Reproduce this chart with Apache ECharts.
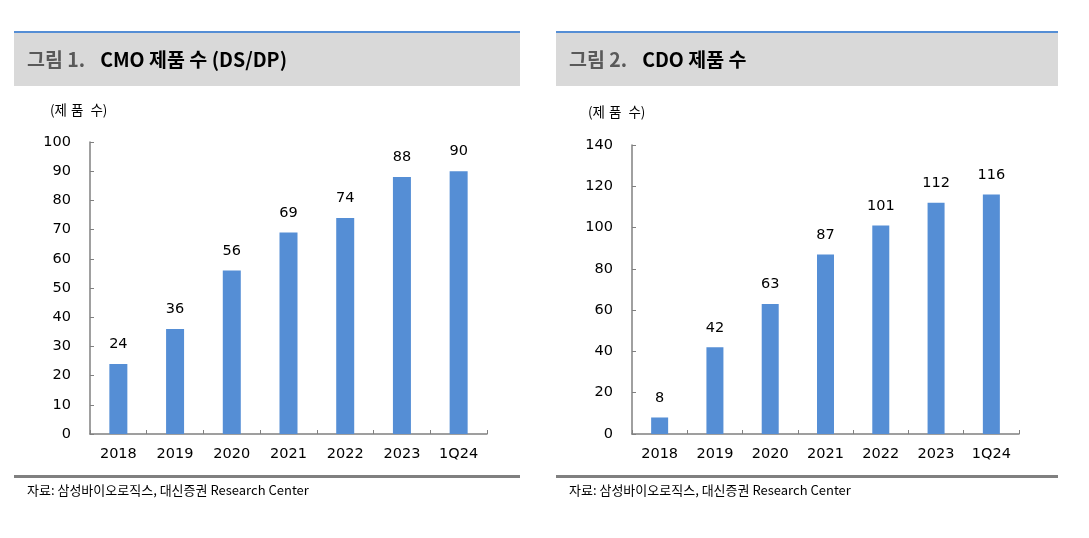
<!DOCTYPE html>
<html><head><meta charset="utf-8">
<script src="https://cdn.jsdelivr.net/npm/echarts@6/dist/echarts.min.js"></script>
<style>html,body{margin:0;padding:0;background:#fff}#c{width:1089px;height:538px}</style>
</head><body><div id="c"></div>
<script>
const categories = ['2018','2019','2020','2021','2022','2023','1Q24'];
const cmoValues = [24,36,56,69,74,88,90];
const cdoValues = [8,42,63,87,101,112,116];
const cmoTicks = {min:0, max:100, interval:10};
const cdoTicks = {min:0, max:140, interval:20};
const title1 = ['그림 1.', 'CMO 제품 수 (DS/DP)'];
const title2 = ['그림 2.', 'CDO 제품 수'];
const unitLabel = '(제품 수)';
const sourceText = '자료: 삼성바이오로직스, 대신증권 Research Center';

const FONT = '"DejaVu Sans", "Liberation Sans", sans-serif';
const KFONT = '"Noto Sans CJK KR", "Liberation Sans", sans-serif';
const BAR = '#558ed5';
const AX = '#808080';

function xAx(gi){
  return {type:'category', gridIndex:gi, data:categories,
    axisLine:{lineStyle:{color:AX,width:1.5}},
    axisTick:{show:true, inside:true, length:4, alignWithLabel:false, lineStyle:{color:AX}},
    axisLabel:{color:'#000', fontFamily:FONT, fontSize:14.5, margin:13}};
}
function yAx(gi, t){
  return {type:'value', gridIndex:gi, min:t.min, max:t.max, interval:t.interval,
    splitLine:{show:false},
    axisLine:{show:true, lineStyle:{color:AX,width:1.5}},
    axisTick:{show:true, inside:true, length:4, lineStyle:{color:AX}},
    axisLabel:{color:'#000', fontFamily:FONT, fontSize:14.5, margin:19}};
}
function ser(i, vals, bw){
  return {type:'bar', xAxisIndex:i, yAxisIndex:i, data:vals, barWidth:bw,
    itemStyle:{color:BAR}, animation:false,
    label:{show:true, position:'top', distance:12, color:'#000', fontFamily:FONT, fontSize:14.5}};
}
function unitRich(){
  // Korean glyphs get a little trailing space, like the reference
  return Array.from(unitLabel).map(ch => /[가-힣]/.test(ch) && ch !== '수' ? '{c|' + ch + '}' : ch).join('');
}
function header(x, w, t){
  return [
    {type:'rect', shape:{x:x, y:33, width:w, height:53}, style:{fill:'#d9d9d9'}},
    {type:'rect', shape:{x:x, y:31, width:w, height:2}, style:{fill:BAR}},
    {type:'text', x:x+13, y:60, style:{text:'{a|'+t[0]+'}{b|'+t[1]+'}', verticalAlign:'middle',
      rich:{a:{fontFamily:KFONT, fontSize:19.5, fontWeight:'bold', fill:'#595959'},
            b:{fontFamily:KFONT, fontSize:19.5, fontWeight:'bold', fill:'#000', padding:[0,0,0,15]}}}},
    {type:'rect', shape:{x:x, y:475, width:w, height:3}, style:{fill:AX}},
    {type:'text', x:x+13, y:490, style:{text:sourceText, verticalAlign:'middle', fontFamily:KFONT, fontSize:13, fill:'#000'}}
  ];
}
function unitText(x, y){
  return {type:'text', x:x, y:y, style:{text:unitRich(), verticalAlign:'middle',
    fontFamily:KFONT, fontSize:13.5, fill:'#000',
    rich:{c:{fontFamily:KFONT, fontSize:13.5, fill:'#000', padding:[0,4,0,0]}}}};
}

const chart = echarts.init(document.getElementById('c'), null, {renderer:'canvas'});
chart.setOption({
  backgroundColor:'#fff',
  animation:false,
  grid:[
    {left:90, top:142, width:397, height:292},
    {left:632, top:145, width:387, height:289}
  ],
  xAxis:[xAx(0), xAx(1)],
  yAxis:[yAx(0, cmoTicks), yAx(1, cdoTicks)],
  series:[ser(0, cmoValues, 18), ser(1, cdoValues, 17)],
  graphic:[].concat(
    header(14, 506, title1),
    header(556, 502, title2),
    [unitText(50, 110), unitText(588, 112)]
  )
});
</script></body></html>
